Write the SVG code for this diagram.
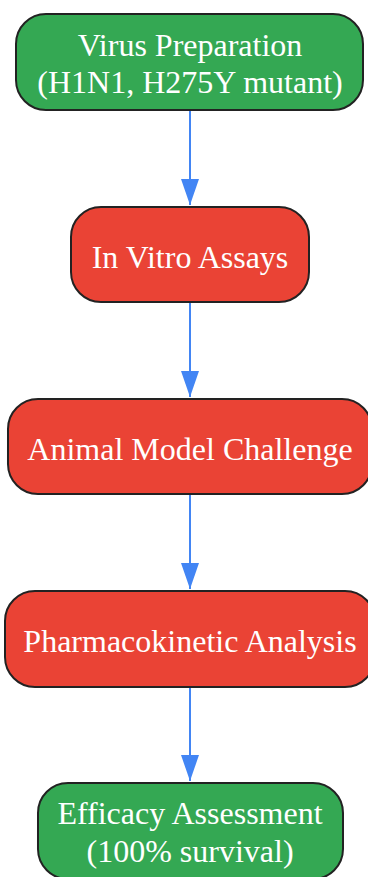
<svg xmlns="http://www.w3.org/2000/svg" width="368" height="877" viewBox="0 0 368 877">
<style>
.n rect{stroke:#222;stroke-width:2}
.g rect{fill:#34A853}
.r rect{fill:#EA4335}
.n text{fill:#fff;font-family:"Liberation Serif",serif;font-size:32px;text-anchor:middle}
.e{stroke:#4285F4;stroke-width:2;fill:none;marker-end:url(#a)}
</style>
<defs>
<marker id="a" viewBox="0 0 26 18" refX="26" refY="9" markerWidth="26" markerHeight="18" markerUnits="userSpaceOnUse" orient="auto">
<path d="M0,0 L26,9 L0,18 Z" fill="#4285F4"/>
</marker>
</defs>
<g id="edges">
<path class="e" d="M190,111 V205"/>
<path class="e" d="M190,303 V397"/>
<path class="e" d="M190,495 V589"/>
<path class="e" d="M190,688 V781"/>
</g>
<g id="n1" class="n g"><rect x="16" y="14" width="347" height="96" rx="30"/><text x="190" y="56">Virus Preparation</text><text x="190" y="93">(H1N1, H275Y mutant)</text></g>
<g id="n2" class="n r"><rect x="71" y="207" width="238" height="95" rx="30"/><text x="190" y="268">In Vitro Assays</text></g>
<g id="n3" class="n r"><rect x="8" y="399" width="364" height="95" rx="30"/><text x="190" y="460">Animal Model Challenge</text></g>
<g id="n4" class="n r"><rect x="5" y="591" width="370" height="96" rx="30"/><text x="190" y="652">Pharmacokinetic Analysis</text></g>
<g id="n5" class="n g"><rect x="38" y="783" width="305" height="96" rx="30"/><text x="190" y="824">Efficacy Assessment</text><text x="190" y="862">(100% survival)</text></g>
</svg>
